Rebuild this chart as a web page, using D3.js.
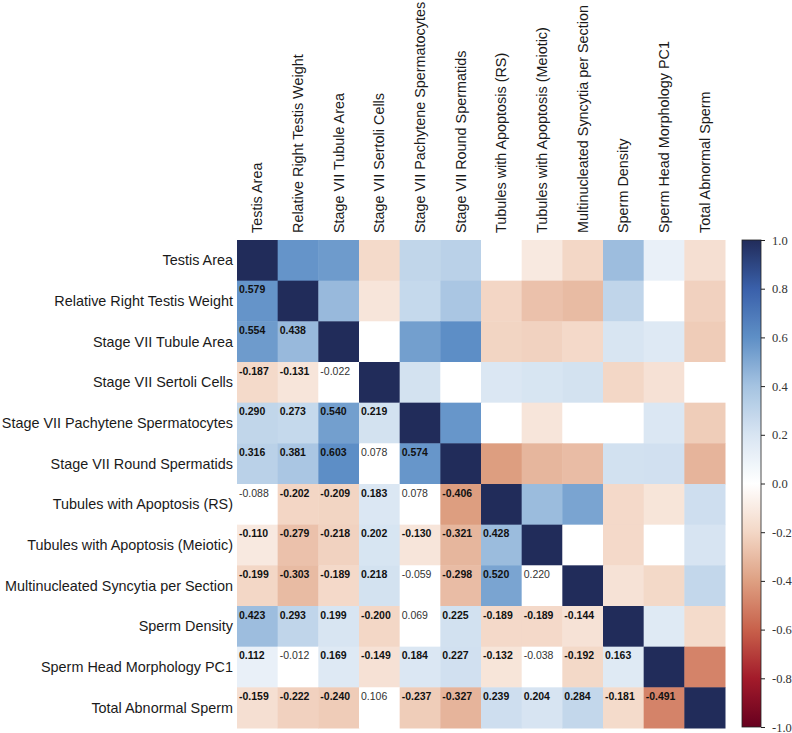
<!DOCTYPE html>
<html>
<head>
<meta charset="utf-8">
<script src="https://cdn.jsdelivr.net/npm/d3@7"></script>
<style>
  html, body { margin: 0; padding: 0; background: #fff; }
  svg { display: block; }
</style>
</head>
<body>
<svg id="chart" width="792" height="733"></svg>
<script>
// ---- data ----
const variables = [
  "Testis Area",
  "Relative Right Testis Weight",
  "Stage VII Tubule Area",
  "Stage VII Sertoli Cells",
  "Stage VII Pachytene Spermatocytes",
  "Stage VII Round Spermatids",
  "Tubules with Apoptosis (RS)",
  "Tubules with Apoptosis (Meiotic)",
  "Multinucleated Syncytia per Section",
  "Sperm Density",
  "Sperm Head Morphology PC1",
  "Total Abnormal Sperm"
];

// lower triangle correlations, row i has i values (columns 0..i-1)
const lowerTriangle = [
  [],
  [0.579],
  [0.554, 0.438],
  [-0.187, -0.131, -0.022],
  [0.290, 0.273, 0.540, 0.219],
  [0.316, 0.381, 0.603, 0.078, 0.574],
  [-0.088, -0.202, -0.209, 0.183, 0.078, -0.406],
  [-0.110, -0.279, -0.218, 0.202, -0.130, -0.321, 0.428],
  [-0.199, -0.303, -0.189, 0.218, -0.059, -0.298, 0.520, 0.220],
  [0.423, 0.293, 0.199, -0.200, 0.069, 0.225, -0.189, -0.189, -0.144],
  [0.112, -0.012, 0.169, -0.149, 0.184, 0.227, -0.132, -0.038, -0.192, 0.163],
  [-0.159, -0.222, -0.240, 0.106, -0.237, -0.327, 0.239, 0.204, 0.284, -0.181, -0.491]
];

// significance flags (1 = significant, bold & coloured; 0 = not significant, shown white)
const significant = [
  [],
  [1],
  [1, 1],
  [1, 1, 0],
  [1, 1, 1, 1],
  [1, 1, 1, 0, 1],
  [0, 1, 1, 1, 0, 1],
  [1, 1, 1, 1, 1, 1, 1],
  [1, 1, 1, 1, 0, 1, 1, 0],
  [1, 1, 1, 1, 0, 1, 1, 1, 1],
  [1, 0, 1, 1, 1, 1, 1, 0, 1, 1],
  [1, 1, 1, 0, 1, 1, 1, 1, 1, 1, 1]
];

const colorbarTicks = [1.0, 0.8, 0.6, 0.4, 0.2, 0.0, -0.2, -0.4, -0.6, -0.8, -1.0];

// colour map stops (value -> colour)
const cmapStops = [-1.0, -0.8, -0.6, -0.4, -0.2, 0.0, 0.2, 0.4, 0.6, 0.8, 1.0];
const cmapColors = ["#67001f", "#a31b2a", "#c8614b", "#dea082", "#f3d7c6", "#ffffff",
                    "#d8e5f2", "#a5c3e1", "#5e8fc6", "#3a60aa", "#212c5a"];

// ---- build ----
const svg = d3.select("#chart");
const n = variables.length;
const gridLeft = 237, gridTop = 240, gridSize = 488;

const x = d3.scaleBand().domain(d3.range(n)).range([gridLeft, gridLeft + gridSize]);
const y = d3.scaleBand().domain(d3.range(n)).range([gridTop, gridTop + gridSize]);
const color = d3.scaleLinear().domain(cmapStops).range(cmapColors).interpolate(d3.interpolateRgb).clamp(true);

const cells = [];
for (let i = 0; i < n; i++) {
  for (let j = 0; j < n; j++) {
    let v, sig;
    if (i === j) { v = 1; sig = 1; }
    else if (j < i) { v = lowerTriangle[i][j]; sig = significant[i][j]; }
    else { v = lowerTriangle[j][i]; sig = significant[j][i]; }
    cells.push({ row: i, col: j, v, sig, lower: j < i });
  }
}

svg.append("g").selectAll("rect").data(cells).join("rect")
  .attr("x", d => x(d.col))
  .attr("y", d => y(d.row))
  .attr("width", x.bandwidth() + 0.5)
  .attr("height", y.bandwidth() + 0.5)
  .attr("fill", d => d.sig ? color(d.v) : "#ffffff");

svg.append("g").selectAll("text").data(cells.filter(d => d.lower)).join("text")
  .attr("x", d => x(d.col) + 2)
  .attr("y", d => y(d.row) + 12.5)
  .attr("font-family", "Liberation Sans, Arial, sans-serif")
  .attr("font-size", "10.5px")
  .attr("font-weight", d => d.sig ? "bold" : "normal")
  .attr("fill", d => d.sig ? "#111" : "#333")
  .text(d => d.v.toFixed(3));

// row labels
svg.append("g").selectAll("text").data(variables).join("text")
  .attr("x", gridLeft - 4)
  .attr("y", (d, i) => y(i) + y.bandwidth() / 2)
  .attr("dy", "0.35em")
  .attr("text-anchor", "end")
  .attr("font-family", "Liberation Sans, Arial, sans-serif")
  .attr("font-size", "14.4px")
  .attr("fill", "#1a1a1a")
  .text(d => d);

// column labels
svg.append("g").selectAll("text").data(variables).join("text")
  .attr("transform", (d, i) => `translate(${x(i) + x.bandwidth() / 2},${gridTop - 7}) rotate(-90)`)
  .attr("dy", "0.35em")
  .attr("text-anchor", "start")
  .attr("font-family", "Liberation Sans, Arial, sans-serif")
  .attr("font-size", "14.4px")
  .attr("fill", "#1a1a1a")
  .text(d => d);

// colour bar
const cbLeft = 742, cbWidth = 19, cbTop = 240, cbBottom = 727;
const cbScale = d3.scaleLinear().domain([-1, 1]).range([cbBottom, cbTop]);
const defs = svg.append("defs");
const grad = defs.append("linearGradient").attr("id", "cbgrad")
  .attr("x1", 0).attr("y1", 1).attr("x2", 0).attr("y2", 0);
grad.selectAll("stop").data(d3.range(0, 1.0001, 0.02)).join("stop")
  .attr("offset", t => t)
  .attr("stop-color", t => color(-1 + 2 * t));
svg.append("rect")
  .attr("x", cbLeft).attr("y", cbTop)
  .attr("width", cbWidth).attr("height", cbBottom - cbTop)
  .attr("fill", "url(#cbgrad)")
  .attr("stroke", "#222").attr("stroke-width", 0.8);

const cbAxis = d3.axisRight(cbScale).tickValues(colorbarTicks)
  .tickFormat(d => d.toFixed(1)).tickSize(4).tickPadding(7);
const axG = svg.append("g").attr("transform", `translate(${cbLeft + cbWidth},0)`).call(cbAxis);
axG.select(".domain").remove();
axG.selectAll("line").attr("stroke", "#222");
axG.selectAll("text")
  .attr("font-family", "Liberation Serif, Times New Roman, serif")
  .attr("font-size", "12.5px")
  .attr("fill", "#333");
</script>
</body>
</html>
